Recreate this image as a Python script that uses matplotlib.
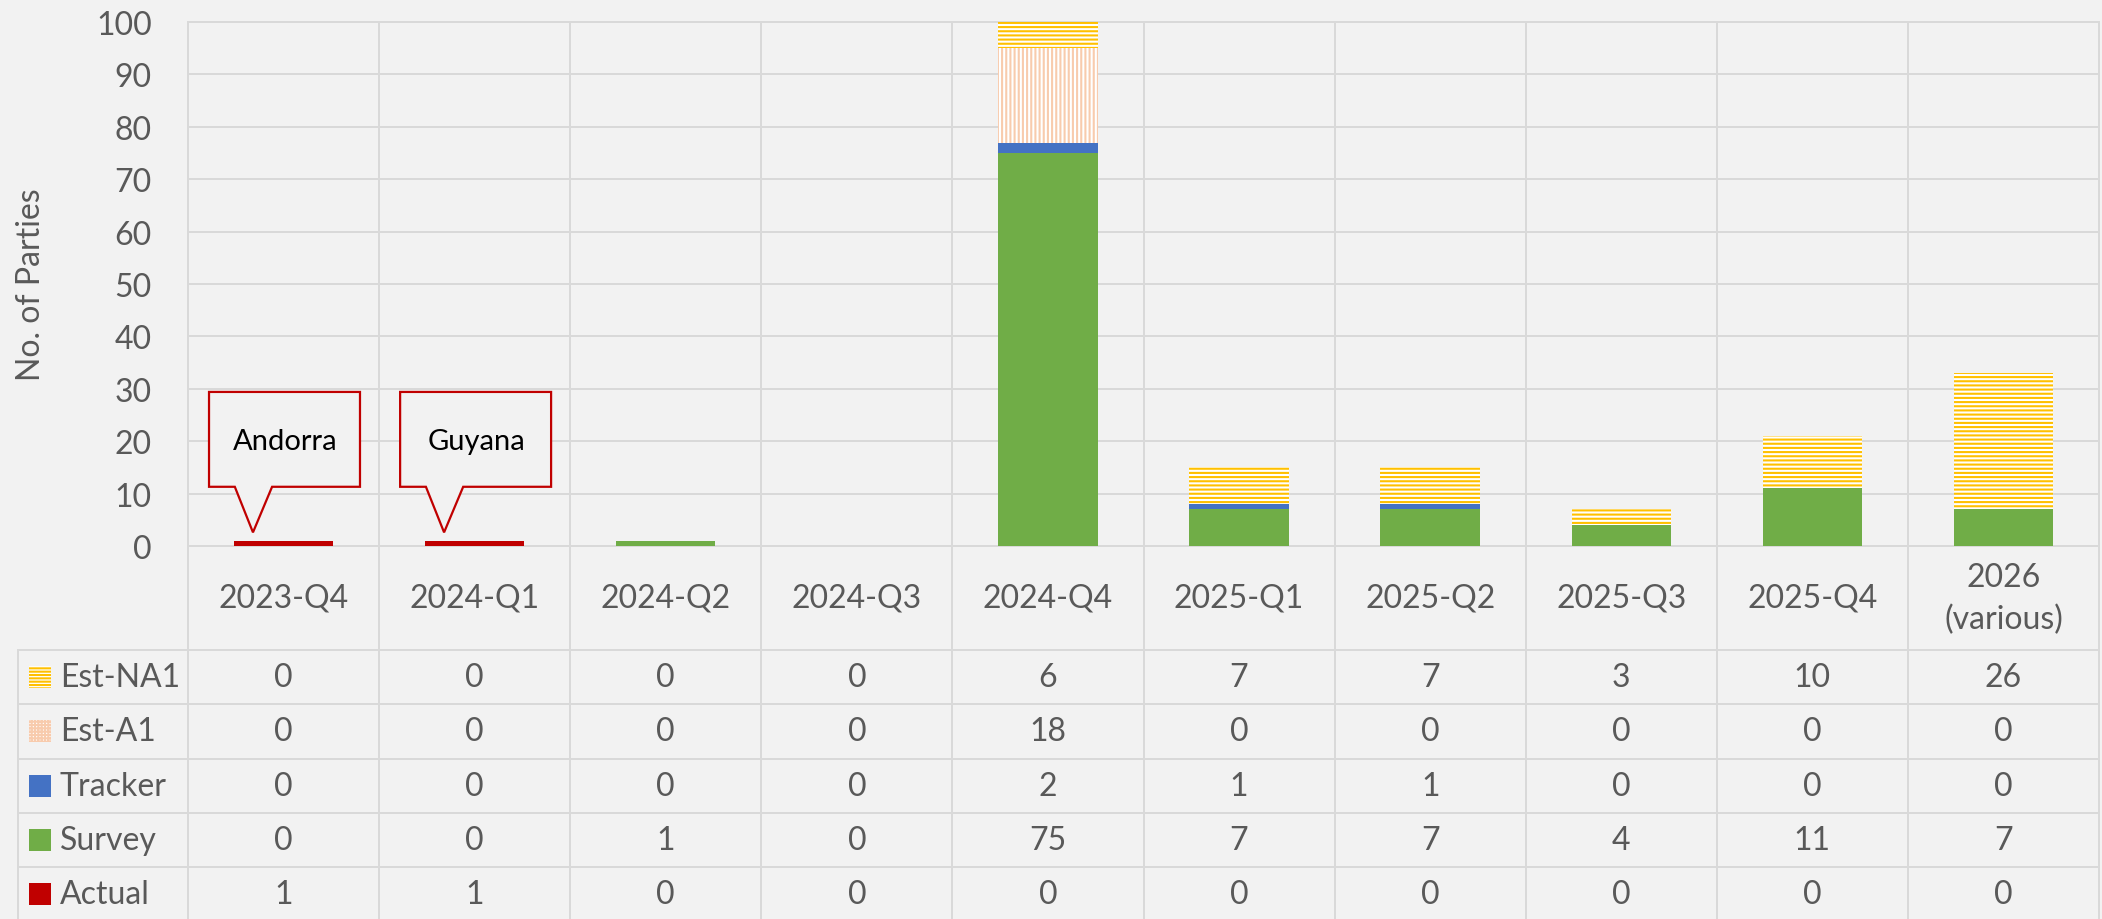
import matplotlib
matplotlib.use('Agg')
import matplotlib.pyplot as plt
from matplotlib.patches import Rectangle, Polygon

plt.rcParams['font.family'] = ['Lato', 'DejaVu Sans']
plt.rcParams['hatch.linewidth'] = 1.5

# Datos
categorias = ['2023-Q4', '2024-Q1', '2024-Q2', '2024-Q3', '2024-Q4',
              '2025-Q1', '2025-Q2', '2025-Q3', '2025-Q4', '2026\n(various)']
actual = [1, 1, 0, 0, 0, 0, 0, 0, 0, 0]
survey = [0, 0, 1, 0, 75, 7, 7, 4, 11, 7]
tracker = [0, 0, 0, 0, 2, 1, 1, 0, 0, 0]
est_a1 = [0, 0, 0, 0, 18, 0, 0, 0, 0, 0]
est_na1 = [0, 0, 0, 0, 6, 7, 7, 3, 10, 26]
notas = {0: 'Andorra', 1: 'Guyana'}

series = [
    # nombre, valores, color, hatch
    ('Actual', actual, '#C00000', None),
    ('Survey', survey, '#70AD47', None),
    ('Tracker', tracker, '#4472C4', None),
    ('Est-A1', est_a1, '#F8CBAD', '||||'),
    ('Est-NA1', est_na1, '#FFC000', '----'),
]

fondo = '#F2F2F2'
rejilla = '#D9D9D9'
gris = '#595959'
fs = 23

W, H = 2102, 920
fig = plt.figure(figsize=(W / 100, H / 100), dpi=100, facecolor=fondo)

# Zona del grafico
x0, x1, ytop, ybot = 188, 2099, 23, 547
ax = fig.add_axes([x0 / W, (H - ybot) / H, (x1 - x0) / W, (ybot - ytop) / H])
ax.set_facecolor(fondo)
n = len(categorias)
ax.set_xlim(-0.5, n - 0.5)
ax.set_ylim(0, 100)
for s in ax.spines.values():
    s.set_visible(False)
ax.set_xticks([])
ax.set_yticks(range(0, 101, 10))
ax.tick_params(axis='y', length=0, pad=26, labelsize=fs, labelcolor=gris)
for v in range(0, 101, 10):
    ax.axhline(v, color=rejilla, lw=1.4, zorder=0, clip_on=False)
for i in range(n + 1):
    ax.axvline(i - 0.5, color=rejilla, lw=1.4, zorder=0, clip_on=False)
ax.set_ylabel('No. of Parties', fontsize=fs, color=gris, labelpad=36)

x = list(range(n))
base = [0] * n
for nombre, vals, color, hatch in series:
    if hatch is None:
        ax.bar(x, vals, bottom=base, width=0.52, color=color, zorder=2)
    else:
        ax.bar(x, vals, bottom=base, width=0.52, facecolor='white',
               edgecolor=color, linewidth=0, hatch=hatch, zorder=2)
    base = [b + v for b, v in zip(base, vals)]

# Llamadas
for i, txt in notas.items():
    pts = [(i - 0.39, 29.4), (i + 0.40, 29.4), (i + 0.40, 11.3),
           (i - 0.06, 11.3), (i - 0.16, 2.6), (i - 0.255, 11.3),
           (i - 0.39, 11.3)]
    ax.add_patch(Polygon(pts, closed=True, facecolor=fondo, edgecolor='#C00000',
                         lw=1.6, zorder=4, clip_on=False))
    ax.text(i + 0.01, 20, txt, ha='center', va='center', fontsize=21,
            color='black', zorder=5)

# Tabla de datos
xl = 18
tab = fig.add_axes([xl / W, 0, (x1 - xl) / W, (H - ybot) / H])
tab.set_facecolor('none')
tab.axis('off')
col = (x1 - x0) / n
xizq = -0.5 - (x0 - xl) / col
fila = 54.3
ycat = -(651 - ybot) / fila
yfin = (H - 651) / fila
tab.set_xlim(xizq, n - 0.5)
tab.set_ylim(yfin, ycat)

for i in range(n + 1):
    tab.plot([i - 0.5, i - 0.5], [ycat, yfin], color=rejilla, lw=1.4, clip_on=False)
tab.plot([xizq, xizq], [0, yfin], color=rejilla, lw=1.4, clip_on=False)
for k in range(5):
    tab.plot([xizq, n - 0.5], [k, k], color=rejilla, lw=1.4, clip_on=False)

for i, c in enumerate(categorias):
    tab.text(i, ycat / 2, c, ha='center', va='center', fontsize=fs,
             color=gris, linespacing=1.45)

filas = list(reversed(series))
for k, (nombre, vals, color, hatch) in enumerate(filas):
    yc = k + 0.5
    kx = xizq + (29 - xl) / col
    kw = 22 / col
    kh = 22 / fila
    if hatch is None:
        tab.add_patch(Rectangle((kx, yc - kh / 2), kw, kh, facecolor=color,
                                linewidth=0))
    else:
        h = '-----' if nombre == 'Est-NA1' else '+++++'
        tab.add_patch(Rectangle((kx, yc - kh / 2), kw, kh, facecolor='white',
                                edgecolor=color, linewidth=0, hatch=h))
    tab.text(xizq + (60 - xl) / col, yc, nombre, ha='left', va='center',
             fontsize=fs, color=gris)
    for i, v in enumerate(vals):
        tab.text(i, yc, str(v), ha='center', va='center', fontsize=fs, color=gris)

fig.savefig('out.png', dpi=100, facecolor=fondo)
